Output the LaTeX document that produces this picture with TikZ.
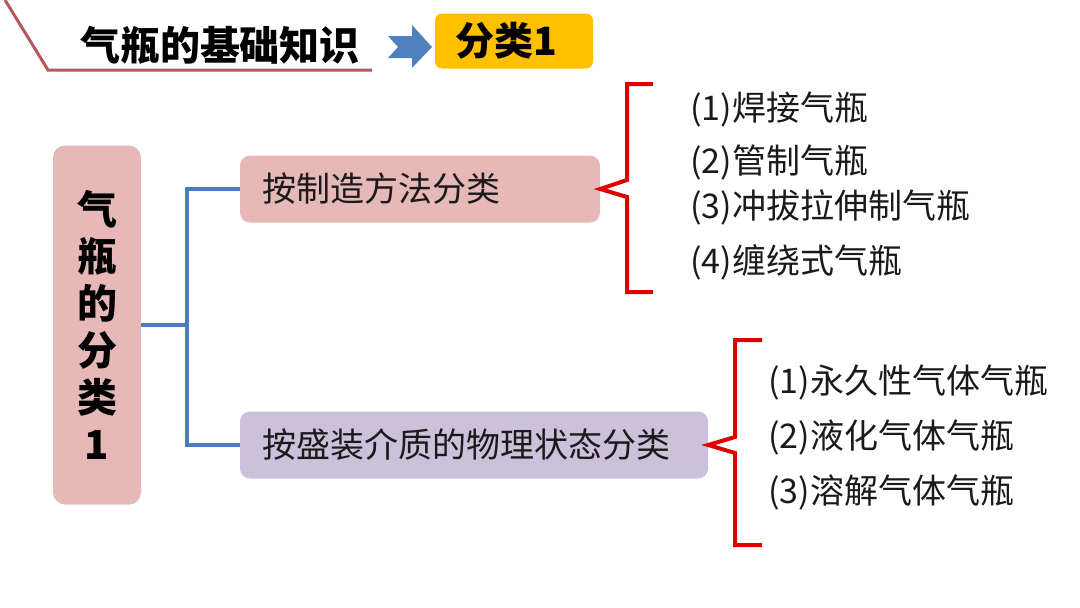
\documentclass[tikz,border=0pt]{standalone}
\usepackage{fontspec}
\newfontfamily\cjk{Noto Sans CJK SC}
\usetikzlibrary{positioning}

\definecolor{rosebox}{HTML}{E6B9B8}
\definecolor{lilacbox}{HTML}{CCC1DA}
\definecolor{tagyellow}{HTML}{FFC000}
\definecolor{linkblue}{HTML}{4A7EBB}
\definecolor{arrowblue}{HTML}{4F81BD}
\definecolor{braced}{HTML}{E00000}
\definecolor{headred}{HTML}{B5585A}
\definecolor{inktext}{HTML}{1A1A1A}

\tikzset{
  headline/.style={draw=headred, line width=3pt},
  titletext/.style={font=\cjk\bfseries\fontsize{40}{44}\selectfont, text=black},
  tagbox/.style={fill=tagyellow, rounded corners=7pt, minimum height=55pt, inner xsep=20pt,
    text width=118pt, align=left, font=\cjk\bfseries\fontsize{39}{42}\selectfont},
  rootbox/.style={fill=rosebox, rounded corners=12pt, minimum width=88pt, minimum height=359pt,
    align=center, font=\cjk\bfseries\fontsize{40}{47}\selectfont},
  branchbox/.style={rounded corners=10pt, minimum height=67pt, inner xsep=22pt, align=left,
    font=\cjk\fontsize{34}{38}\selectfont, text=inktext},
  link/.style={draw=linkblue, line width=3.5pt},
  brace/.style={draw=braced, line width=4pt, line join=miter},
  item/.style={anchor=west, inner sep=0pt, font=\cjk\fontsize{34}{38}\selectfont, text=inktext},
}

\begin{document}
\begin{tikzpicture}[x=1pt,y=-1pt]
\useasboundingbox (0,0) rectangle (1080,608);

% header
\draw[headline] (5,0) -- (48,70) -- (372,70);
\node[titletext] (title) at (220,45) {气瓶的基础知识};
\fill[arrowblue] (388,36) -- (412,36) -- (412,25) -- (432,47) -- (412,68) -- (412,58)
  -- (388,58) -- (398,47) -- cycle;
\node[tagbox] (tag) at (514,41) {分类1};

% root and branches
\node[rootbox] (root) at (97,325) {气\\瓶\\的\\分\\类\\1};
\node[branchbox, fill=rosebox, text width=316pt] (m1) at (420,189) {按制造方法分类};
\node[branchbox, fill=lilacbox, text width=424pt] (m2) at (474,445) {按盛装介质的物理状态分类};

\coordinate (fork) at (187,325);
\draw[link] (root.east) -- (fork);
\draw[link] (fork) |- (m1.west);
\draw[link] (fork) |- (m2.west);

% braces
\draw[brace] (653,84) -- (627,84) -- (627,180) -- (m1.east) -- (627,197) -- (627,292) -- (653,292);
\draw[brace] (762,340) -- (735,340) -- (735,437) -- (m2.east) -- (735,453) -- (735,545) -- (762,545);

% items
\node[item] (a1) at (690,110) {(1)焊接气瓶};
\node[item] (a2) at (690,162) {(2)管制气瓶};
\node[item] (a3) at (690,207) {(3)冲拔拉伸制气瓶};
\node[item] (a4) at (690,262) {(4)缠绕式气瓶};

\node[item] (b1) at (768,383) {(1)永久性气体气瓶};
\node[item] (b2) at (768,437) {(2)液化气体气瓶};
\node[item] (b3) at (768,492) {(3)溶解气体气瓶};

\end{tikzpicture}
\end{document}
